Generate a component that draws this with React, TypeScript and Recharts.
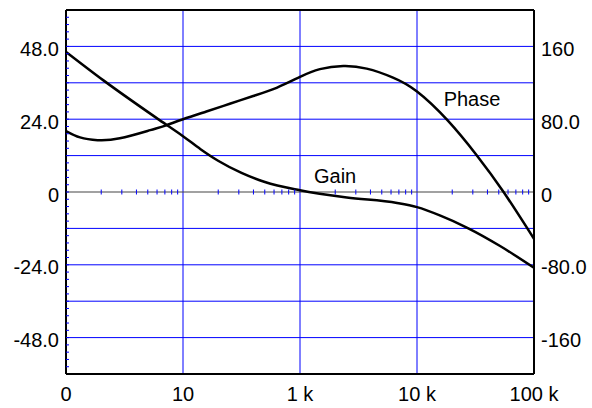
import { ComposedChart, Line, XAxis, YAxis, CartesianGrid, ReferenceLine, ReferenceDot, Scatter } from 'recharts';

// x is in decades from the left edge (0 .. 4)
const gainX = [0, 0.32, 0.8, 1.0, 1.15, 1.3, 1.5, 1.7, 2.0, 2.4, 2.83, 3.0, 3.2, 3.43, 3.71, 4.0];
const gainDb = [46.2, 36.8, 23.7, 18.4, 14.1, 10.3, 6.3, 3.3, 0.6, -1.8, -3.6, -5.0, -7.8, -11.8, -17.8, -25];

const phaseX = [0, 0.12, 0.27, 0.46, 0.72, 0.85, 1.0, 1.2, 1.4, 1.6, 1.8, 2.0, 2.17, 2.37, 2.57, 2.79, 3.0, 3.26, 3.51, 3.74, 4.0];
const phaseDeg = [67, 60, 57, 59, 68, 73, 80, 88.5, 97, 105.5, 114.5, 126.5, 135, 138.4, 135.6, 126, 110.5, 79, 40.5, 0, -51.5];

const xTicks = [0, 1, 2, 3, 4];
const xTickLabels = ['0', '10', '1 k', '10 k', '100 k'];
const leftTicks = [48, 24, 0, -24, -48];
const leftTickLabels = ['48.0', '24.0', '0', '-24.0', '-48.0'];
const rightTicks = [160, 80, 0, -80, -160];
const rightTickLabels = ['160', '80.0', '0', '-80.0', '-160'];
const hGrid = [-48, -36, -24, -12, 12, 24, 36, 48];
const vGrid = [1, 2, 3];

const gainData = gainX.map((x, i) => ({ x, gain: gainDb[i] }));
const phaseData = phaseX.map((x, i) => ({ x, phase: phaseDeg[i] }));

// minor ticks: every 2.4 on the left axis, log 2..9 on the zero line
const leftMinor: { x: number; y: number }[] = [];
for (let k = -24; k <= 24; k++) leftMinor.push({ x: 0, y: k * 2.4 });
const xMinor: { x: number; y: number }[] = [];
for (let d = 0; d < 4; d++) for (let m = 2; m <= 9; m++) xMinor.push({ x: d + Math.log10(m), y: 0 });

const font = '"Liberation Sans", Arial, sans-serif';
const BLUE = '#0000ff';

const fmt = (labels: string[], ticks: number[]) => (v: number) => labels[ticks.indexOf(v)] ?? '';

export default function App() {
  return (
    <div style={{ position: 'absolute', left: 0, top: 0, fontFamily: font }}>
      <ComposedChart width={592} height={408} margin={{ top: 10, right: 0, left: 0, bottom: 0 }}>
        <CartesianGrid
          yAxisId="left"
          stroke={BLUE}
          strokeWidth={1}
          horizontalValues={hGrid}
          verticalValues={vGrid}
        />
        <XAxis
          type="number"
          dataKey="x"
          domain={[0, 4]}
          ticks={xTicks}
          tickFormatter={fmt(xTickLabels, xTicks)}
          height={34}
          tickSize={0}
          tickMargin={13}
          axisLine={{ stroke: '#000', strokeWidth: 2 }}
          tick={{ fill: '#000', fontSize: 20, fontFamily: font }}
          allowDataOverflow
        />
        <YAxis
          yAxisId="left"
          type="number"
          domain={[-60, 60]}
          ticks={leftTicks}
          tickFormatter={fmt(leftTickLabels, leftTicks)}
          width={66}
          tickSize={0}
          tickMargin={7}
          axisLine={{ stroke: '#000', strokeWidth: 2 }}
          tick={{ fill: '#000', fontSize: 20, fontFamily: font, dy: 2.5 }}
          allowDataOverflow
        />
        <YAxis
          yAxisId="right"
          orientation="right"
          type="number"
          domain={[-200, 200]}
          ticks={rightTicks}
          tickFormatter={fmt(rightTickLabels, rightTicks)}
          width={58}
          tickSize={0}
          tickMargin={7}
          axisLine={{ stroke: '#000', strokeWidth: 2 }}
          tick={{ fill: '#000', fontSize: 20, fontFamily: font, dy: 2.5 }}
          allowDataOverflow
        />
        <ReferenceLine yAxisId="left" y={0} stroke="#444" strokeWidth={1.2} />
        <ReferenceLine yAxisId="left" y={60} stroke="#000" strokeWidth={2} />
        <Scatter
          yAxisId="left"
          data={leftMinor}
          dataKey="y"
          isAnimationActive={false}
          shape={(p: any) => <line x1={p.cx} x2={p.cx + 3} y1={p.cy} y2={p.cy} stroke={BLUE} strokeWidth={1} />}
        />
        <Scatter
          yAxisId="left"
          data={xMinor}
          dataKey="y"
          isAnimationActive={false}
          shape={(p: any) => <line x1={p.cx} x2={p.cx} y1={p.cy - 2.5} y2={p.cy + 2.5} stroke={BLUE} strokeWidth={1} />}
        />
        <Line
          yAxisId="left"
          data={gainData}
          dataKey="gain"
          type="monotone"
          stroke="#000"
          strokeWidth={2.5}
          dot={false}
          isAnimationActive={false}
        />
        <Line
          yAxisId="right"
          data={phaseData}
          dataKey="phase"
          type="natural"
          stroke="#000"
          strokeWidth={2.5}
          dot={false}
          isAnimationActive={false}
        />
        <ReferenceDot
          yAxisId="left"
          x={2.3}
          y={5.3}
          r={0}
          fill="none"
          stroke="none"
          label={{ value: 'Gain', position: 'center', fill: '#000', fontSize: 20, fontFamily: font }}
        />
        <ReferenceDot
          yAxisId="left"
          x={3.47}
          y={30.6}
          r={0}
          fill="none"
          stroke="none"
          label={{ value: 'Phase', position: 'center', fill: '#000', fontSize: 20, fontFamily: font }}
        />
      </ComposedChart>
    </div>
  );
}
